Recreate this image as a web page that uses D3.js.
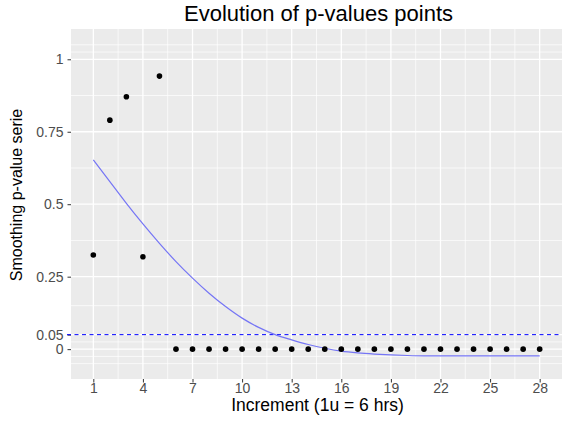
<!DOCTYPE html>
<html>
<head>
<meta charset="utf-8">
<script src="https://cdn.jsdelivr.net/npm/d3@7"></script>
<style>
  body { margin: 0; background: #ffffff; }
  text { font-family: "Liberation Sans", Arial, sans-serif; }
</style>
</head>
<body>
<div id="chart"></div>
<script>
/* CONSTANTS AND GLOBALS */
const width = 563;
const height = 422;
const margin = { top: 29, right: 1, bottom: 43, left: 71 };

/* DATA */
const increments = [1, 2, 3, 4, 5, 6, 7, 8, 9, 10, 11, 12, 13, 14,
  15, 16, 17, 18, 19, 20, 21, 22, 23, 24, 25, 26, 27, 28];
const pValues = [0.325, 0.79, 0.871, 0.319, 0.942, 0, 0, 0, 0, 0, 0, 0, 0, 0,
  0, 0, 0, 0, 0, 0, 0, 0, 0, 0, 0, 0, 0, 0];
const smoothValues = [0.653, 0.578, 0.503, 0.432, 0.365, 0.302, 0.245, 0.193,
  0.147, 0.107, 0.075, 0.05, 0.032, 0.016, 0.003, -0.007, -0.013, -0.017,
  -0.02, -0.022, -0.023, -0.023, -0.023, -0.023, -0.023, -0.023, -0.023, -0.023];
const threshold = 0.05;

const xTicks = [1, 4, 7, 10, 13, 16, 19, 22, 25, 28];
const xMinor = [2.5, 5.5, 8.5, 11.5, 14.5, 17.5, 20.5, 23.5, 26.5];
const yTicks = [0, 0.05, 0.25, 0.5, 0.75, 1];
const yTickLabels = ["0", "0.05", "0.25", "0.5", "0.75", "1"];
const yMinor = [-0.05, -0.025, 0.025, 0.15, 0.375, 0.625, 0.875, 1.025, 1.05];

const points = increments.map((x, i) => ({ x: x, y: pValues[i] }));
const smooth = increments.map((x, i) => ({ x: x, y: smoothValues[i] }));

const svg = d3.select("#chart")
  .append("svg")
  .attr("width", width)
  .attr("height", height);

/* SCALES */
const xScale = d3.scaleLinear()
  .domain([-0.35, 29.35])
  .range([margin.left, width - margin.right]);

const yScale = d3.scaleLinear()
  .domain([-0.103, 1.1045])
  .range([height - margin.bottom, margin.top]);

/* PANEL + GRID */
svg.append("rect")
  .attr("x", margin.left)
  .attr("y", margin.top)
  .attr("width", width - margin.right - margin.left)
  .attr("height", height - margin.bottom - margin.top)
  .attr("fill", "#EBEBEB");

const grid = svg.append("g");

grid.selectAll(".y-minor")
  .data(yMinor)
  .join("line")
  .attr("x1", margin.left)
  .attr("x2", width - margin.right)
  .attr("y1", d => yScale(d))
  .attr("y2", d => yScale(d))
  .attr("stroke", "#ffffff")
  .attr("stroke-width", 0.7);

grid.selectAll(".x-minor")
  .data(xMinor)
  .join("line")
  .attr("x1", d => xScale(d))
  .attr("x2", d => xScale(d))
  .attr("y1", margin.top)
  .attr("y2", height - margin.bottom)
  .attr("stroke", "#ffffff")
  .attr("stroke-width", 0.7);

grid.selectAll(".y-major")
  .data(yTicks)
  .join("line")
  .attr("x1", margin.left)
  .attr("x2", width - margin.right)
  .attr("y1", d => yScale(d))
  .attr("y2", d => yScale(d))
  .attr("stroke", "#ffffff")
  .attr("stroke-width", 1.3);

grid.selectAll(".x-major")
  .data(xTicks)
  .join("line")
  .attr("x1", d => xScale(d))
  .attr("x2", d => xScale(d))
  .attr("y1", margin.top)
  .attr("y2", height - margin.bottom)
  .attr("stroke", "#ffffff")
  .attr("stroke-width", 1.3);

/* AXES */
const xAxis = svg.append("g")
  .attr("transform", `translate(0,${height - margin.bottom})`)
  .call(d3.axisBottom(xScale).tickValues(xTicks).tickSize(3.5).tickPadding(1));

const yAxis = svg.append("g")
  .attr("transform", `translate(${margin.left},0)`)
  .call(d3.axisLeft(yScale).tickValues(yTicks)
    .tickFormat((d, i) => yTickLabels[i]).tickSize(3.5).tickPadding(4));

[xAxis, yAxis].forEach(ax => {
  ax.select(".domain").remove();
  ax.selectAll(".tick line").attr("stroke", "#333333");
  ax.selectAll(".tick text")
    .attr("fill", "#4D4D4D")
    .style("font-size", "14px")
    .style("font-family", "'Liberation Sans', Arial, sans-serif");
});

/* THRESHOLD LINE */
svg.append("line")
  .attr("x1", margin.left - 4)
  .attr("x2", width - margin.right)
  .attr("y1", yScale(threshold))
  .attr("y2", yScale(threshold))
  .attr("stroke", "#0000FF")
  .attr("stroke-width", 1)
  .attr("stroke-dasharray", "4,3.5");

/* SMOOTH LINE */
const line = d3.line()
  .x(d => xScale(d.x))
  .y(d => yScale(d.y))
  .curve(d3.curveMonotoneX);

svg.append("path")
  .datum(smooth)
  .attr("d", line)
  .attr("fill", "none")
  .attr("stroke", "#7575F5")
  .attr("stroke-width", 1.2);

/* POINTS */
svg.selectAll(".pt")
  .data(points)
  .join("circle")
  .attr("class", "pt")
  .attr("cx", d => xScale(d.x))
  .attr("cy", d => yScale(d.y))
  .attr("r", 2.8)
  .attr("fill", "#000000");

/* TITLES */
svg.append("text")
  .attr("x", (margin.left + width - margin.right) / 2 + 2)
  .attr("y", 21)
  .attr("text-anchor", "middle")
  .style("font-size", "22px")
  .attr("fill", "#000000")
  .text("Evolution of p-values points");

svg.append("text")
  .attr("x", (margin.left + width - margin.right) / 2 + 1)
  .attr("y", 411)
  .attr("text-anchor", "middle")
  .style("font-size", "17.5px")
  .attr("fill", "#000000")
  .text("Increment (1u = 6 hrs)");

svg.append("text")
  .attr("transform", "translate(22,195) rotate(-90)")
  .attr("text-anchor", "middle")
  .style("font-size", "16px")
  .attr("fill", "#000000")
  .text("Smoothing p-value serie");
</script>
</body>
</html>
